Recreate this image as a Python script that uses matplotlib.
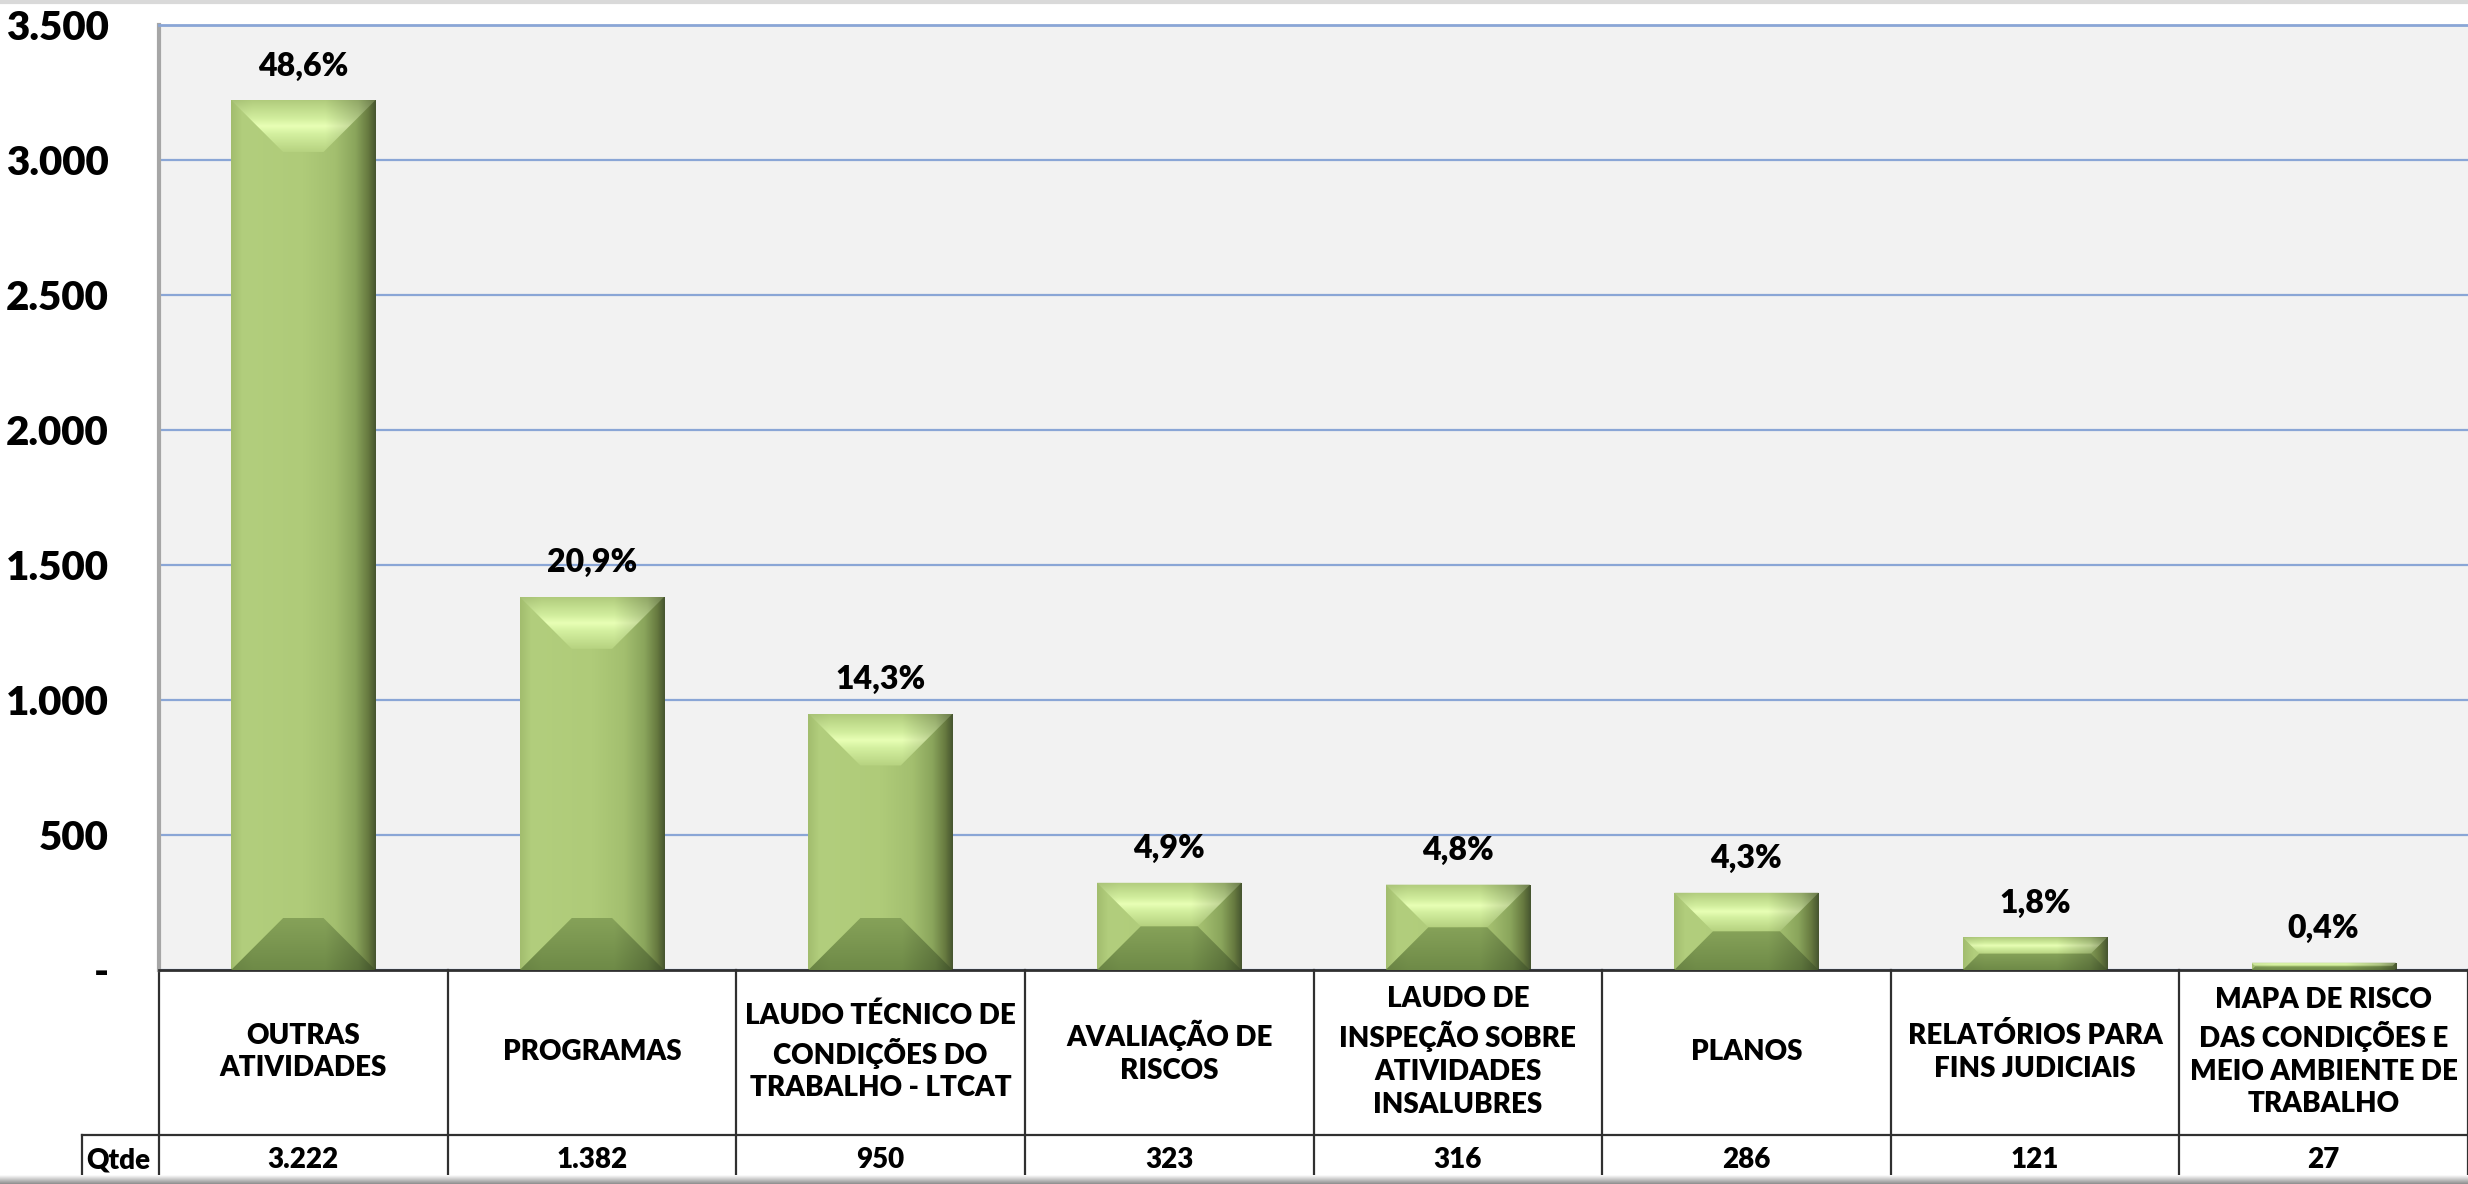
import numpy as np
import matplotlib
matplotlib.use('Agg')
import matplotlib.pyplot as plt
from matplotlib.colors import to_rgb
from matplotlib.patches import Polygon

plt.rcParams['font.family'] = ['Lato', 'DejaVu Sans']
plt.rcParams['font.weight'] = 'heavy'

# data
categorias = ['OUTRAS\nATIVIDADES', 'PROGRAMAS',
              'LAUDO TÉCNICO DE\nCONDIÇÕES DO\nTRABALHO - LTCAT',
              'AVALIAÇÃO DE\nRISCOS',
              'LAUDO DE\nINSPEÇÃO SOBRE\nATIVIDADES\nINSALUBRES',
              'PLANOS', 'RELATÓRIOS PARA\nFINS JUDICIAIS',
              'MAPA DE RISCO\nDAS CONDIÇÕES E\nMEIO AMBIENTE DE\nTRABALHO']
qtde = [3222, 1382, 950, 323, 316, 286, 121, 27]
qtde_txt = ['3.222', '1.382', '950', '323', '316', '286', '121', '27']
percentuais = ['48,6%', '20,9%', '14,3%', '4,9%', '4,8%', '4,3%', '1,8%', '0,4%']
yticks = [0, 500, 1000, 1500, 2000, 2500, 3000, 3500]
ytick_txt = ['-', '500', '1.000', '1.500', '2.000', '2.500', '3.000', '3.500']

W_PX, H_PX = 2468, 1184
AX_L, AX_T, AX_B = 159, 25, 970
FW = 'heavy'


def grad(stops, n=256):
    # interpolate a list of (pos, color) into n rgb rows
    pos = np.array([s[0] for s in stops])
    cols = np.array([to_rgb(s[1]) for s in stops])
    t = np.linspace(0, 1, n)
    return np.stack([np.interp(t, pos, cols[:, i]) for i in range(3)], axis=-1)


body_h = grad([(0, '#A2BD6E'), (0.08, '#B2CE7D'), (0.5, '#AFCB79'), (0.72, '#A3BF6F'),
               (0.86, '#8AA55C'), (0.95, '#66793F'), (1, '#465530')])
shade = np.interp(np.linspace(0, 1, 256), [0, 0.15, 0.65, 0.88, 1], [0.95, 1, 1, 0.82, 0.6])
top_v = grad([(0, '#B0CB7C'), (0.35, '#D2EE9E'), (0.5, '#E8FFB5'), (0.65, '#D4F0A0'), (1, '#B6D280')])
bot_v = grad([(0, '#86A259'), (1, '#6E8A47')])

body_img = body_h[None, :, :]
top_img = np.clip(top_v[:, None, :] * shade[None, :, None], 0, 1)
bot_img = np.clip(bot_v[:, None, :] * shade[None, :, None], 0, 1)

fig = plt.figure(figsize=(W_PX / 100, H_PX / 100), dpi=100)
ax = fig.add_axes([AX_L / W_PX, 1 - AX_B / H_PX, (W_PX - AX_L) / W_PX, (AX_B - AX_T) / H_PX])
ax.set_facecolor('#F2F2F2')

x = np.arange(len(categorias))
xlim = (-0.5, len(categorias) - 0.5)
ylim = (0, 3500)
px_x = (xlim[1] - xlim[0]) / (W_PX - AX_L)
px_y = (ylim[1] - ylim[0]) / (AX_B - AX_T)

bars = ax.bar(x, qtde, width=0.5, color='none', linewidth=0, zorder=2)
for p in bars:
    x0, w, h = p.get_x(), p.get_width(), p.get_height()
    d = min(52, h / px_y / 2)
    dx, dy = d * px_x, d * px_y
    im = ax.imshow(body_img, extent=(x0, x0 + w, 0, h), aspect='auto',
                   interpolation='bilinear', zorder=2)
    im.set_clip_path(p)
    top = Polygon([(x0, h), (x0 + w, h), (x0 + w - dx, h - dy), (x0 + dx, h - dy)],
                  closed=True, facecolor='none', edgecolor='none')
    ax.add_patch(top)
    im = ax.imshow(top_img, extent=(x0, x0 + w, h - dy, h), aspect='auto',
                   interpolation='bilinear', zorder=3)
    im.set_clip_path(top)
    bot = Polygon([(x0, 0), (x0 + w, 0), (x0 + w - dx, dy), (x0 + dx, dy)],
                  closed=True, facecolor='none', edgecolor='none')
    ax.add_patch(bot)
    im = ax.imshow(bot_img, extent=(x0, x0 + w, 0, dy), aspect='auto',
                   interpolation='bilinear', zorder=3)
    im.set_clip_path(bot)

for xi, v, t in zip(x, qtde, percentuais):
    ax.annotate(t, (xi, v), xytext=(0, 14), textcoords='offset points',
                ha='center', va='bottom', fontsize=23, fontweight=FW)

ax.set_xlim(*xlim)
ax.set_ylim(*ylim)
ax.set_yticks(yticks)
ax.set_yticklabels(ytick_txt, fontsize=29, fontweight=FW)
ax.tick_params(axis='y', length=0, pad=36)
ax.set_xticks([])
ax.yaxis.grid(True, color='#8AA6D6', linewidth=1.6, zorder=1)
ax.set_axisbelow(True)
ax.spines['right'].set_visible(False)
ax.spines['left'].set_color('#A6A6A6')
ax.spines['left'].set_linewidth(3)
ax.spines['top'].set_color('#8AA6D6')
ax.spines['top'].set_linewidth(2)
ax.spines['bottom'].set_color('#303030')
ax.spines['bottom'].set_linewidth(2)

# data table below the plot
tr = ax.get_xaxis_transform()
ax_h = AX_B - AX_T
row1_c = -((1052 - AX_B) / ax_h)
row_sep = -((1135 - AX_B) / ax_h)
row2_c = -((1160 - AX_B) / ax_h)
tab_bot = -((H_PX - AX_B) / ax_h)
qx = xlim[0] - (AX_L - 82) * px_x
lc = '#303030'

for k in range(len(categorias) + 1):
    ax.plot([xlim[0] + k, xlim[0] + k], [0, tab_bot], transform=tr, color=lc,
            linewidth=1.6, clip_on=False)
ax.plot([qx, xlim[1]], [row_sep, row_sep], transform=tr, color=lc, linewidth=1.6, clip_on=False)
ax.plot([qx, qx], [row_sep, tab_bot], transform=tr, color=lc, linewidth=1.6, clip_on=False)

for xi, c, q in zip(x, categorias, qtde_txt):
    ax.text(xi, row1_c, c, transform=tr, ha='center', va='center', fontsize=20,
            fontweight=FW, linespacing=1.32)
    ax.text(xi, row2_c, q, transform=tr, ha='center', va='center', fontsize=20,
            fontweight=FW)
ax.text(qx + 4 * px_x, row2_c, 'Qtde', transform=tr, ha='left', va='center', fontsize=20,
        fontweight=FW)

# light shadow strip at the bottom edge
sh = fig.add_axes([0, 0, 1, 9 / H_PX])
sh.imshow(grad([(0, '#8C8C8C'), (1, '#FFFFFF')])[:, None, :], aspect='auto',
          extent=(0, 1, 0, 1), origin='lower')
sh.axis('off')
fig.add_artist(plt.Line2D([0, 1], [1 - 1.5 / H_PX] * 2, color='#D9D9D9', linewidth=3))

fig.savefig('out.png', dpi=100)
